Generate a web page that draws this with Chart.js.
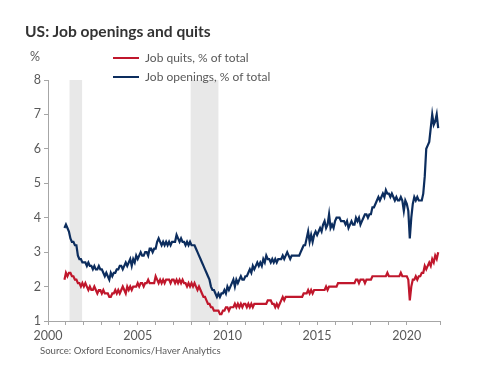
<!DOCTYPE html>
<html>
<head>
<meta charset="utf-8">
<script src="https://cdn.jsdelivr.net/npm/chart.js@4.4.1/dist/chart.umd.min.js"></script>
<style>
  html, body { margin: 0; padding: 0; background: #fff; }
  body { width: 478px; height: 384px; position: relative; overflow: hidden; font-family: Lato, sans-serif; }
  #chart-wrap { position: absolute; left: 0; top: 0; width: 478px; height: 384px; }
  .txt { position: absolute; white-space: nowrap; color: #595959; }
  #title { left: 25px; top: 22px; font-size: 15.6px; font-weight: 700; color: #333; }
  #pct { left: 30px; top: 49px; font-size: 12.5px; }
  .leg { left: 113px; font-size: 12px; }
  .leg span { display: inline-block; width: 26px; height: 2px; vertical-align: middle; margin-right: 6px; position: relative; top: -1px; }
  #source { left: 40px; top: 345px; font-size: 9.6px; }
</style>
</head>
<body>
<div id="chart-wrap"><canvas id="jobsChart" width="478" height="384"></canvas></div>
<div class="txt" id="title">US: Job openings and quits</div>
<div class="txt" id="pct">%</div>
<div class="txt leg" style="top:50px"><span style="background:#c0172c"></span>Job quits, % of total</div>
<div class="txt leg" style="top:69px"><span style="background:#0c2d5e"></span>Job openings, % of total</div>
<div class="txt" id="source">Source: Oxford Economics/Haver Analytics</div>

<script>
// monthly rates, Dec 2000 .. Oct 2021
const START_YEAR = 2000;
const START_MONTH = 11; // December (0-based)

const openings = [
    3.7,
    3.8, 3.7, 3.6, 3.4, 3.3, 3.3, 3.2, 3.2, 2.9, 2.8, 2.8, 2.7, // 2001
    2.7, 2.7, 2.6, 2.7, 2.6, 2.6, 2.5, 2.6, 2.5, 2.5, 2.6, 2.5, // 2002
    2.5, 2.4, 2.3, 2.4, 2.3, 2.2, 2.4, 2.3, 2.4, 2.4, 2.5, 2.5, // 2003
    2.6, 2.6, 2.5, 2.6, 2.7, 2.6, 2.7, 2.8, 2.6, 2.8, 2.7, 2.9, // 2004
    2.8, 2.9, 3.0, 2.9, 2.9, 3.0, 3.0, 2.9, 3.1, 3.1, 3.0, 3.1, // 2005
    3.1, 3.3, 3.4, 3.3, 3.2, 3.3, 3.2, 3.3, 3.2, 3.3, 3.2, 3.3, // 2006
    3.3, 3.3, 3.5, 3.4, 3.3, 3.4, 3.3, 3.3, 3.2, 3.3, 3.2, 3.3, // 2007
    3.2, 3.2, 3.2, 3.1, 3.0, 2.9, 2.8, 2.7, 2.6, 2.5, 2.4, 2.3, // 2008
    2.2, 2.0, 1.9, 1.9, 1.8, 1.7, 1.8, 1.7, 1.8, 1.8, 1.9, 1.8, // 2009
    2.0, 1.9, 2.0, 2.1, 2.2, 2.0, 2.2, 2.1, 2.2, 2.3, 2.2, 2.2, // 2010
    2.3, 2.3, 2.4, 2.5, 2.4, 2.6, 2.5, 2.6, 2.7, 2.6, 2.7, 2.6, // 2011
    2.8, 2.7, 2.9, 2.8, 2.8, 2.7, 2.8, 2.7, 2.8, 2.7, 2.8, 2.8, // 2012
    2.8, 2.9, 2.8, 2.9, 3.0, 2.9, 2.8, 2.9, 2.9, 2.9, 2.9, 2.9, // 2013
    2.9, 3.0, 3.1, 3.2, 3.2, 3.4, 3.6, 3.3, 3.5, 3.3, 3.5, 3.6, // 2014
    3.5, 3.6, 3.7, 3.6, 3.8, 3.9, 3.7, 3.8, 4.1, 3.7, 3.8, 3.7, // 2015
    3.9, 4.0, 4.0, 4.0, 3.9, 3.9, 3.9, 3.8, 3.9, 3.7, 3.8, 3.9, // 2016
    3.8, 3.8, 4.0, 3.9, 4.0, 3.8, 3.9, 4.0, 4.1, 4.1, 4.0, 4.1, // 2017
    4.1, 4.3, 4.3, 4.4, 4.5, 4.6, 4.5, 4.6, 4.7, 4.6, 4.8, 4.7, // 2018
    4.7, 4.6, 4.7, 4.6, 4.5, 4.6, 4.5, 4.5, 4.6, 4.5, 4.2, 4.5, // 2019
    4.4, 4.2, 3.4, 4.0, 4.4, 4.6, 4.5, 4.6, 4.5, 4.5, 4.5, 4.7, // 2020
    5.2, 6.0, 6.1, 6.2, 6.6, 7.0, 6.7, 6.8, 7.0, 6.6            // 2021
];

const quits = [
    2.2,
    2.4, 2.3, 2.4, 2.4, 2.3, 2.3, 2.2, 2.2, 2.1, 2.1, 2.0, 2.1, // 2001
    2.0, 2.1, 2.0, 1.9, 2.0, 1.9, 1.9, 2.0, 1.9, 1.8, 1.9, 1.9, // 2002
    1.8, 1.9, 1.8, 1.8, 1.8, 1.7, 1.7, 1.8, 1.8, 1.9, 1.8, 1.9, // 2003
    1.8, 1.9, 2.0, 1.9, 1.8, 2.0, 1.9, 2.0, 1.9, 2.0, 2.0, 2.0, // 2004
    2.1, 2.0, 2.1, 2.1, 2.0, 2.1, 2.1, 2.2, 2.1, 2.1, 2.1, 2.1, // 2005
    2.3, 2.2, 2.1, 2.2, 2.1, 2.2, 2.1, 2.2, 2.2, 2.2, 2.1, 2.2, // 2006
    2.2, 2.1, 2.2, 2.1, 2.2, 2.1, 2.2, 2.1, 2.1, 2.0, 2.1, 2.0, // 2007
    2.1, 2.0, 2.1, 2.0, 1.9, 2.0, 1.9, 1.8, 1.7, 1.7, 1.6, 1.5, // 2008
    1.5, 1.4, 1.4, 1.3, 1.3, 1.3, 1.3, 1.2, 1.2, 1.3, 1.3, 1.4, // 2009
    1.4, 1.3, 1.4, 1.4, 1.4, 1.5, 1.4, 1.5, 1.4, 1.5, 1.4, 1.5, // 2010
    1.5, 1.4, 1.5, 1.4, 1.5, 1.4, 1.5, 1.5, 1.5, 1.5, 1.5, 1.5, // 2011
    1.5, 1.5, 1.5, 1.6, 1.6, 1.6, 1.5, 1.5, 1.4, 1.5, 1.4, 1.5, // 2012
    1.6, 1.7, 1.6, 1.7, 1.7, 1.7, 1.7, 1.7, 1.7, 1.7, 1.7, 1.7, // 2013
    1.7, 1.7, 1.7, 1.8, 1.8, 1.8, 1.9, 1.8, 1.9, 1.8, 1.9, 1.9, // 2014
    1.9, 1.9, 1.9, 1.9, 1.9, 1.9, 2.0, 1.9, 2.0, 2.0, 2.0, 2.0, // 2015
    2.0, 2.0, 2.1, 2.1, 2.1, 2.1, 2.1, 2.1, 2.1, 2.1, 2.1, 2.1, // 2016
    2.1, 2.1, 2.2, 2.2, 2.1, 2.2, 2.2, 2.2, 2.1, 2.2, 2.2, 2.2, // 2017
    2.2, 2.3, 2.3, 2.3, 2.3, 2.3, 2.3, 2.3, 2.3, 2.3, 2.3, 2.4, // 2018
    2.3, 2.3, 2.3, 2.3, 2.3, 2.3, 2.3, 2.3, 2.4, 2.3, 2.3, 2.3, // 2019
    2.3, 2.2, 1.6, 2.0, 2.2, 2.2, 2.3, 2.2, 2.3, 2.3, 2.4, 2.4, // 2020
    2.6, 2.5, 2.6, 2.7, 2.6, 2.8, 2.7, 2.9, 2.8, 3.0            // 2021
];

// recession periods (shaded), in fractional years
const recessions = [[2001.2, 2001.9], [2007.95, 2009.5]];

const yTicks = [1, 2, 3, 4, 5, 6, 7, 8];

function toPoints(values) {
    return values.map((v, i) => ({ x: START_YEAR + (START_MONTH + i) / 12, y: v }));
}

// draws grey recession bands behind the lines
const recessionBands = {
    id: "recessionBands",
    beforeDatasetsDraw(chart) {
        const { ctx, chartArea, scales } = chart;
        ctx.save();
        ctx.fillStyle = "#e8e8e8";
        recessions.forEach(([a, b]) => {
            const x1 = scales.x.getPixelForValue(a);
            const x2 = scales.x.getPixelForValue(b);
            ctx.fillRect(x1, chartArea.top, x2 - x1, chartArea.bottom - chartArea.top);
        });
        ctx.restore();
    }
};

const axisColor = "#a6a6a6";
const labelFont = { family: "Lato", size: 12.5 };

new Chart(document.getElementById("jobsChart"), {
    type: "line",
    data: {
        datasets: [
            {
                label: "Job quits, % of total",
                data: toPoints(quits),
                borderColor: "#c0172c",
                borderWidth: 2.2,
                pointRadius: 0,
                tension: 0
            },
            {
                label: "Job openings, % of total",
                data: toPoints(openings),
                borderColor: "#0c2d5e",
                borderWidth: 2.2,
                pointRadius: 0,
                tension: 0
            }
        ]
    },
    options: {
        responsive: false,
        animation: false,
        layout: { padding: { top: 80, right: 38, left: 0, bottom: 0 } },
        plugins: {
            legend: { display: false },
            tooltip: { enabled: false }
        },
        scales: {
            x: {
                type: "linear",
                min: 2000,
                max: 2021.85,
                afterFit: scale => { scale.height = 63; },
                border: { display: true, color: axisColor, width: 1 },
                grid: { display: true, drawOnChartArea: false, drawTicks: true, tickLength: 4, color: axisColor },
                ticks: {
                    stepSize: 1,
                    autoSkip: false,
                    maxRotation: 0,
                    padding: 3,
                    color: "#595959",
                    font: labelFont,
                    callback: v => (Math.round(v) % 5 === 0 ? String(Math.round(v)) : "")
                }
            },
            y: {
                min: 1,
                max: 8,
                afterFit: scale => { scale.width = 48; },
                afterBuildTicks: scale => { scale.ticks = yTicks.map(v => ({ value: v })); },
                border: { display: true, color: axisColor, width: 1 },
                grid: { display: true, drawOnChartArea: false, drawTicks: true, tickLength: 4, color: axisColor },
                ticks: {
                    padding: 3,
                    color: "#595959",
                    font: labelFont
                }
            }
        }
    },
    plugins: [recessionBands]
});
</script>
</body>
</html>
